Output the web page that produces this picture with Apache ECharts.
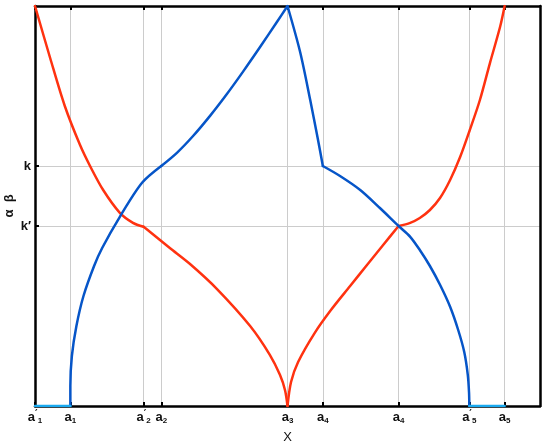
<!DOCTYPE html>
<html>
<head>
<meta charset="utf-8">
<script src="https://cdn.jsdelivr.net/npm/echarts@6/dist/echarts.min.js"></script>
<style>
html, body { margin: 0; padding: 0; background: #fff; }
#chart { width: 550px; height: 446px; }
</style>
</head>
<body>
<div id="chart"></div>
<script>
// === DATA ===
const xTicks = [0, 7, 21.5, 25, 50, 57, 72, 86, 93];
const xTickSubs = ['1', '1', '2', '2', '3', '4', '4', '5', '5'];
const xTickPrimes = [true, false, true, false, false, false, false, true, false];
const yTicks = [45, 60];
const yTickLabels = ['k′', 'k'];

// alpha (red), split at its corners
const alphaA = [
    [0, 100], [3.0, 87], [5.9, 75], [8.9, 65.3], [10.9, 60], [13.5, 54],
    [16.8, 48.3], [19.4, 45.8], [21.5, 44.8]
];
const alphaB = [
    [21.5, 44.8], [22.8, 43.5], [26.7, 39.5], [30.7, 35.5], [36.0, 29.3],
    [42.6, 20], [46.5, 12.8], [48.5, 7.8], [49.5, 4], [50, 0]
];
const alphaC = [
    [50, 0], [50.7, 6], [52.1, 11], [55.4, 18.3], [58.6, 24], [62.4, 30],
    [65.7, 35.2], [68.9, 40.2], [72, 45]
];
const alphaD = [
    [72, 45], [74.3, 45.8], [76.2, 47], [78.2, 49], [80.2, 52], [82.2, 56.5],
    [84.2, 62.3], [86.1, 69], [88.1, 76.5], [90.1, 85.8], [92.1, 94.8], [93, 100]
];

// beta (blue), split at its corners
const betaA = [
    [7, 0], [7.0, 5], [7.3, 12.5], [8.2, 20], [9.6, 27.5], [11.7, 35], [13.3, 39.5],
    [16.8, 47.3], [21.2, 55.8], [25, 60]
];
const betaB = [
    [25, 60], [28.1, 63.3], [31.3, 67.5], [34.7, 72.6], [38.0, 78], [41.2, 83.6],
    [44.6, 89.8], [47.9, 96], [50, 100]
];
const betaC = [
    [50, 100], [52.5, 88.5], [54.5, 76.5], [56, 66.8], [57, 60]
];
const betaD = [
    [57, 60], [60.4, 57.5], [64.4, 54], [68.3, 49.5], [72, 45], [74.3, 42.3],
    [76.2, 39], [78.2, 35], [80.2, 30.3], [82.2, 24.8], [83.8, 19], [85.0, 13.5],
    [85.7, 7.8], [85.95, 3.3], [86, 0]
];

const betaBaseLeft = [[0, 0], [7, 0]];
const betaBaseRight = [[86, 0], [93, 0]];

// === RENDER ===
const chart = echarts.init(document.getElementById('chart'));

const labelRich = {
    a: { fontSize: 13, fontWeight: 'bold', color: '#111', lineHeight: 16, fontFamily: 'Liberation Sans' },
    p: { fontSize: 10, fontWeight: 'bold', color: '#111', verticalAlign: 'top', lineHeight: 16, fontFamily: 'DejaVu Sans' },
    s: { fontSize: 8, fontWeight: 'bold', color: '#111', verticalAlign: 'bottom', lineHeight: 16, fontFamily: 'Liberation Sans' }
};

function xLabel(value) {
    const i = xTicks.indexOf(value);
    if (i < 0) return '';
    return '{a|a}' + (xTickPrimes[i] ? '{p|′}' : '') + '{s|' + xTickSubs[i] + '}';
}

function curve(data, color, z, smooth) {
    return {
        type: 'line', data: data, showSymbol: false, smooth: smooth,
        lineStyle: { color: color, width: 2.5, cap: 'round', join: 'round' }, z: z
    };
}

const red = '#ff3210';
const blue = '#0655c8';
const cyan = '#1aaaf0';

const boxLine = { show: true, onZero: false, lineStyle: { color: '#000', width: 2.5 } };
const gridLine = { show: true, lineStyle: { color: '#cccccc', width: 1 } };
const tick = { show: true, inside: true, length: 4, lineStyle: { color: '#000', width: 2 } };

const option = {
    animation: false,
    backgroundColor: '#fff',
    grid: { left: 35, right: 10, top: 6, bottom: 40, containLabel: false, outerBoundsMode: 'none' },
    xAxis: [
        {
            type: 'value', min: 0, max: 100, position: 'bottom',
            name: 'X', nameLocation: 'middle', nameGap: 25, nameMoveOverlap: false,
            nameTextStyle: { fontSize: 13, color: '#111', fontFamily: 'Liberation Sans' },
            axisLine: boxLine,
            axisTick: Object.assign({ customValues: xTicks }, tick),
            axisLabel: { customValues: xTicks, formatter: xLabel, rich: labelRich, margin: 3 },
            splitLine: gridLine
        },
        {
            type: 'value', min: 0, max: 100, position: 'top',
            axisLine: boxLine,
            axisTick: Object.assign({ customValues: xTicks }, tick),
            axisLabel: { show: false },
            splitLine: { show: false }
        }
    ],
    yAxis: [
        {
            type: 'value', min: 0, max: 100, position: 'left',
            name: 'α  β', nameLocation: 'middle', nameGap: 19, nameRotate: 90, nameMoveOverlap: false,
            nameTextStyle: { fontSize: 13, fontWeight: 'bold', color: '#111', fontFamily: 'Liberation Sans' },
            axisLine: boxLine,
            axisTick: Object.assign({ customValues: yTicks }, tick),
            axisLabel: {
                customValues: yTicks, margin: 4,
                formatter: v => yTickLabels[yTicks.indexOf(v)] || '',
                fontSize: 13, fontWeight: 'bold', color: '#111', fontFamily: 'Liberation Sans'
            },
            splitLine: gridLine
        },
        {
            type: 'value', min: 0, max: 100, position: 'right',
            axisLine: boxLine,
            axisTick: { show: false },
            axisLabel: { show: false },
            splitLine: { show: false }
        }
    ],
    series: [
        curve(alphaA, red, 3, 0.3),
        curve(alphaB, red, 3, 0.3),
        curve(alphaC, red, 3, 0.3),
        curve(alphaD, red, 3, 0.3),
        curve(betaA, blue, 4, 0.3),
        curve(betaB, blue, 4, 0.3),
        curve(betaC, blue, 4, 0.3),
        curve(betaD, blue, 4, 0.3),
        curve(betaBaseLeft, cyan, 5, false),
        curve(betaBaseRight, cyan, 5, false)
    ]
};

chart.setOption(option);
</script>
</body>
</html>
